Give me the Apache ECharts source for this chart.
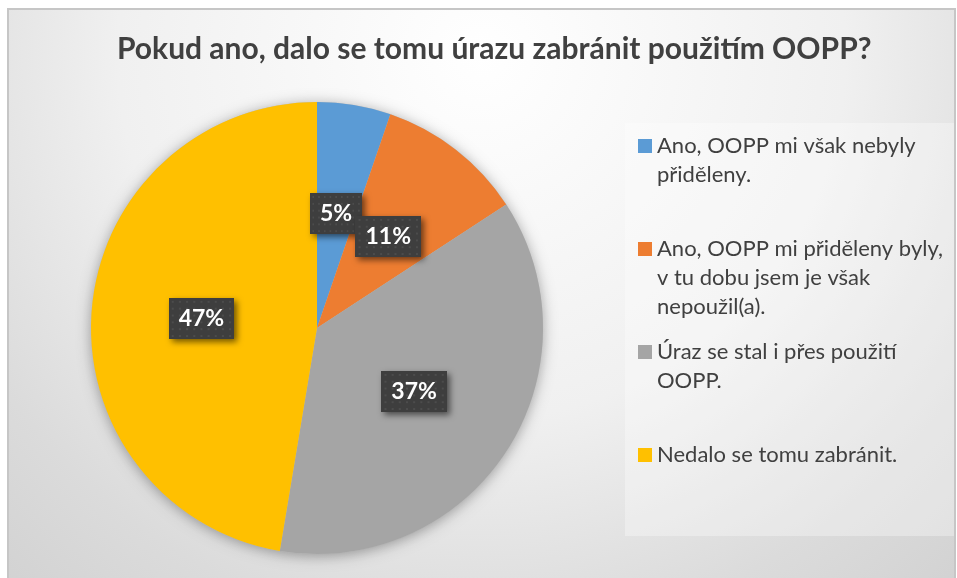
<!DOCTYPE html>
<html>
<head>
<meta charset="utf-8">
<script src="https://cdn.jsdelivr.net/npm/echarts@6/dist/echarts.min.js"></script>
<style>
  html, body { margin: 0; padding: 0; background: #ffffff; }
  #chart { width: 957px; height: 578px; }
</style>
</head>
<body>
<div id="chart"></div>
<script>
const titleText = 'Pokud ano, dalo se tomu úrazu zabránit použitím OOPP?';
const categories = [
  'Ano, OOPP mi však nebyly přiděleny.',
  'Ano, OOPP mi přiděleny byly, v tu dobu jsem je však nepoužil(a).',
  'Úraz se stal i přes použití OOPP.',
  'Nedalo se tomu zabránit.'
];
// legend lines, wrapped as in the original
const legendLines = [
  ['Ano, OOPP mi však nebyly', 'přiděleny.'],
  ['Ano, OOPP mi přiděleny byly,', 'v tu dobu jsem je však', 'nepoužil(a).'],
  ['Úraz se stal i přes použití', 'OOPP.'],
  ['Nedalo se tomu zabránit.']
];
const counts = [1, 2, 7, 9];
const colors = ['#5B9BD5', '#ED7D31', '#A5A5A5', '#FFC000'];

const FONT = 'Lato, "Noto Sans", sans-serif';
const LINE_H = 29;
// vertical centre of each legend marker
const legendMarkY = [146, 249, 352, 455];

// dotted dark texture for the data labels
function labelTexture() {
  const c = document.createElement('canvas');
  c.width = 64; c.height = 42;
  const ctx = c.getContext('2d');
  ctx.fillStyle = '#3e3e3e';
  ctx.fillRect(0, 0, 64, 42);
  ctx.fillStyle = '#4c4c4c';
  for (let y = 3; y < 42; y += 7) {
    for (let x = 3; x < 64; x += 7) ctx.fillRect(x, y, 2, 2);
  }
  return c;
}

const chart = echarts.init(document.getElementById('chart'));

// one legend per entry; empty lines on top keep the marker on the first text line
const legends = categories.map((name, i) => {
  const n = legendLines[i].length;
  return {
    data: [name],
    orient: 'vertical',
    left: 638,
    top: legendMarkY[i] - (2 * n - 1) * LINE_H / 2,
    padding: 0,
    icon: 'rect',
    itemWidth: 14,
    itemHeight: 14,
    selectedMode: false,
    formatter: () => '\n'.repeat(n - 1) + legendLines[i].join('\n'),
    textStyle: {
      fontFamily: FONT,
      fontSize: 22,
      lineHeight: LINE_H,
      color: '#404040'
    }
  };
});

chart.setOption({
  animation: false,
  color: colors,
  title: {
    text: titleText,
    left: 117,
    top: 34,
    padding: 0,
    textStyle: { fontFamily: FONT, fontSize: 30, fontWeight: 'bold', color: '#404040' }
  },
  graphic: [
    {
      type: 'rect', z: -10,
      shape: { x: 8, y: 9, width: 947, height: 580 },
      style: {
        fill: {
          type: 'radial', x: 0.5, y: 0.08, r: 1.25,
          colorStops: [
            { offset: 0, color: '#ffffff' },
            { offset: 0.5, color: '#f0f0f0' },
            { offset: 0.8, color: '#dbdbdb' },
            { offset: 1, color: '#d1d1d1' }
          ]
        },
        stroke: '#c6c6c6',
        lineWidth: 2
      }
    },
    {
      type: 'rect', z: -9,
      shape: { x: 625, y: 123, width: 329, height: 413 },
      style: { fill: 'rgba(255,255,255,0.32)' }
    }
  ],
  legend: legends,
  series: [
    {
      // soft drop shadow behind the pie
      type: 'pie',
      silent: true,
      center: [317, 328],
      radius: 226,
      data: [{ value: 1, name: '' }],
      itemStyle: { color: '#bdbdbd', shadowBlur: 14, shadowColor: 'rgba(0,0,0,0.35)', shadowOffsetY: 2 },
      label: { show: false },
      labelLine: { show: false }
    },
    {
      type: 'pie',
      center: [317, 328],
      radius: 226,
      startAngle: 90,
      clockwise: true,
      avoidLabelOverlap: false,
      minShowLabelAngle: 0,
      labelLayout: { hideOverlap: false },
      data: categories.map((name, i) => ({ name, value: counts[i] })),
      label: {
        position: 'inside',
        formatter: p => Math.round(p.percent) + '%',
        fontFamily: FONT,
        fontSize: 23,
        fontWeight: 'bold',
        color: '#ffffff',
        backgroundColor: { image: labelTexture() },
        padding: [10, 10, 8, 10],
        shadowColor: 'rgba(0,0,0,0.55)',
        shadowBlur: 6,
        shadowOffsetX: 3,
        shadowOffsetY: 3
      },
      labelLine: { show: false },
      emphasis: { disabled: true }
    }
  ]
});
</script>
</body>
</html>
